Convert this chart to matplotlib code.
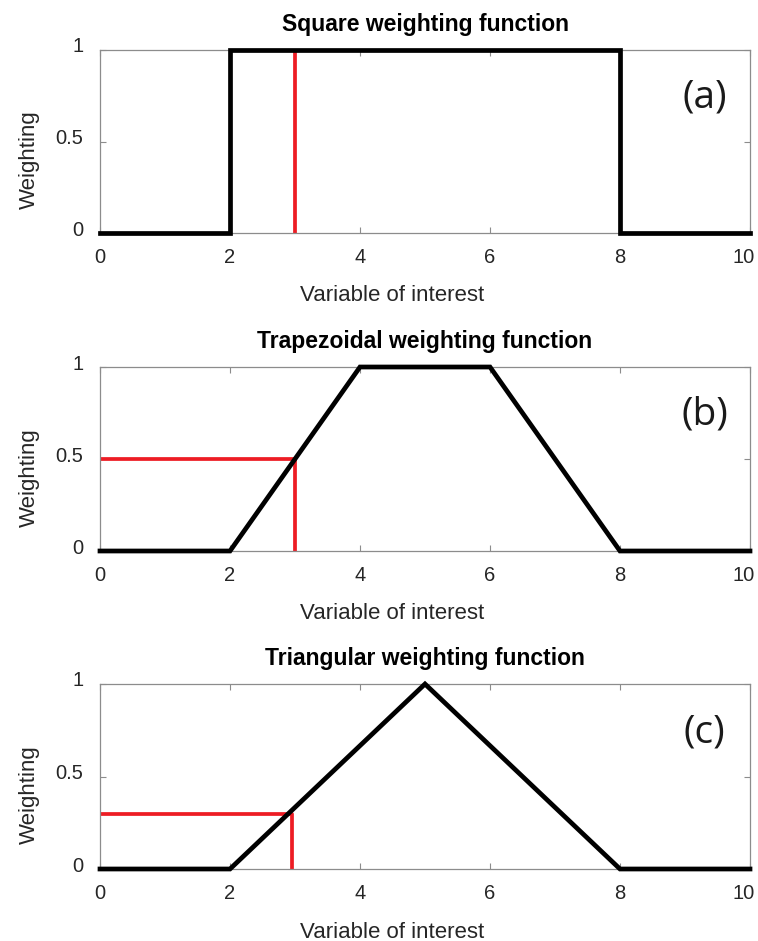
import matplotlib
matplotlib.use("Agg")
import matplotlib.pyplot as plt
import matplotlib.transforms as mtransforms

plt.rcParams['font.family'] = ['Liberation Sans', 'DejaVu Sans']

# weighting function shapes
square_x = [0, 2, 2, 8, 8, 10]
square_y = [0, 0, 1, 1, 0, 0]
trap_x = [0, 2, 4, 6, 8, 10]
trap_y = [0, 0, 1, 1, 0, 0]
tri_x = [0, 2, 5, 8, 10]
tri_y = [0, 0, 1, 0, 0]

# red read-off lines (x value, weight)
probe_x = [3, 3, 2.95]
probe_w = [1, 0.5, 0.3]

titles = ["Square weighting function",
          "Trapezoidal weighting function",
          "Triangular weighting function"]
panel_tags = ["(a)", "(b)", "(c)"]
x_ticks = [0, 2, 4, 6, 8, 10]
y_ticks = [0, 0.5, 1]
y_ticklabels = ["0", "0.5", "1"]

W, H = 758, 941
fig = plt.figure(figsize=(W / 100, H / 100), dpi=100)

# axes boxes in pixels: left, top, right, bottom
boxes = [(100, 50, 750, 233), (100, 367, 750, 551), (100, 684, 750, 869)]
shapes = [(square_x, square_y), (trap_x, trap_y), (tri_x, tri_y)]

for i, (l, t, r, b) in enumerate(boxes):
    ax = fig.add_axes([l / W, (H - b) / H, (r - l) / W, (b - t) / H])
    xs, ys = shapes[i]
    px, pw = probe_x[i], probe_w[i]
    if i == 0:
        ax.plot([px, px], [0, pw], color='#ed1c24', lw=2.7, zorder=2)
    else:
        ax.plot([0, px, px], [pw, pw, 0], color='#ed1c24', lw=2.7, zorder=2)
    ax.plot(xs, ys, color='black', lw=3.4, clip_on=False, zorder=3,
            solid_joinstyle='miter')

    ax.set_xlim(0, 10)
    ax.set_ylim(0, 1)
    ax.set_xticks(x_ticks)
    ax.set_yticks(y_ticks)
    ax.set_yticklabels(y_ticklabels)
    for s in ax.spines.values():
        s.set_color('#8c8c8c')
        s.set_linewidth(0.9)
    ax.tick_params(direction='in', length=4.5, width=0.8, color='#8c8c8c',
                   top=True, right=True, labelsize=14.5, labelcolor='#262626')
    ax.tick_params(axis='x', pad=11)
    ax.tick_params(axis='y', pad=12)
    # y tick labels sit a little above their ticks
    up = mtransforms.ScaledTranslation(0, 5 / 100, fig.dpi_scale_trans)
    for lab in ax.get_yticklabels():
        lab.set_transform(lab.get_transform() + up)
    # keep the last x label inside the figure
    left = mtransforms.ScaledTranslation(-6 / 100, 0, fig.dpi_scale_trans)
    last = ax.get_xticklabels()[-1]
    last.set_transform(last.get_transform() + left)

    ax.set_xlabel("Variable of interest", fontsize=16, color='#262626')
    ax.xaxis.set_label_coords(0.45, -0.285)
    ax.set_ylabel("Weighting", fontsize=16, color='#262626')
    ax.yaxis.set_label_coords(-0.092, 0.40)
    ax.set_title(titles[i], fontsize=16.5, fontweight='bold', pad=13.5)
    ax.text(0.93, 0.74, panel_tags[i], transform=ax.transAxes,
            fontsize=28, family=['Open Sans', 'DejaVu Sans'],
            ha='center', va='center', color='#1a1a1a')

fig.savefig("out.png", dpi=100)
